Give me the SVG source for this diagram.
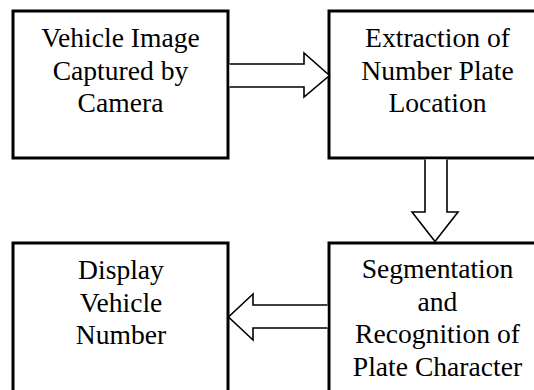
<svg xmlns="http://www.w3.org/2000/svg" width="534" height="390" viewBox="0 0 534 390">
<style>
.box{fill:#fff;stroke:#000;stroke-width:3}
.arr{fill:#fff;stroke:#000;stroke-width:1.6;stroke-linejoin:miter}
text{font-family:"Liberation Serif","Times New Roman",serif;font-size:27.6px;fill:#000;text-anchor:middle}
</style>
<rect width="534" height="390" fill="#fff"/>
<g id="n1"><rect class="box" x="13" y="11" width="215" height="147"/>
<text x="120.5" y="47">Vehicle Image</text><text x="120.5" y="79.5">Captured by</text><text x="120.5" y="112">Camera</text></g>
<g id="n2"><rect class="box" x="329" y="11" width="217" height="147"/>
<text x="437.5" y="47">Extraction of</text><text x="437.5" y="79.5">Number Plate</text><text x="437.5" y="112">Location</text></g>
<g id="n3"><rect class="box" x="13" y="243" width="215" height="160"/>
<text x="121" y="279">Display</text><text x="121" y="311.5">Vehicle</text><text x="121" y="344">Number</text></g>
<g id="n4"><rect class="box" x="329" y="243" width="217" height="160"/>
<text x="437.5" y="278">Segmentation</text><text x="437.5" y="310.5">and</text><text x="437.5" y="343">Recognition of</text><text x="437.5" y="375.5">Plate Character</text></g>
<g id="connectors">
<path class="arr" d="M229.5,64 H304 V53 L329.5,75.5 L304,97 V87 H229.5"/>
<path class="arr" d="M425,159.5 V212 H412 L435,241.5 L458,212 H447 V159.5"/>
<path class="arr" d="M327.5,305 H253 V294 L228.5,317 L253,340 V328 H327.5"/>
</g>
</svg>
